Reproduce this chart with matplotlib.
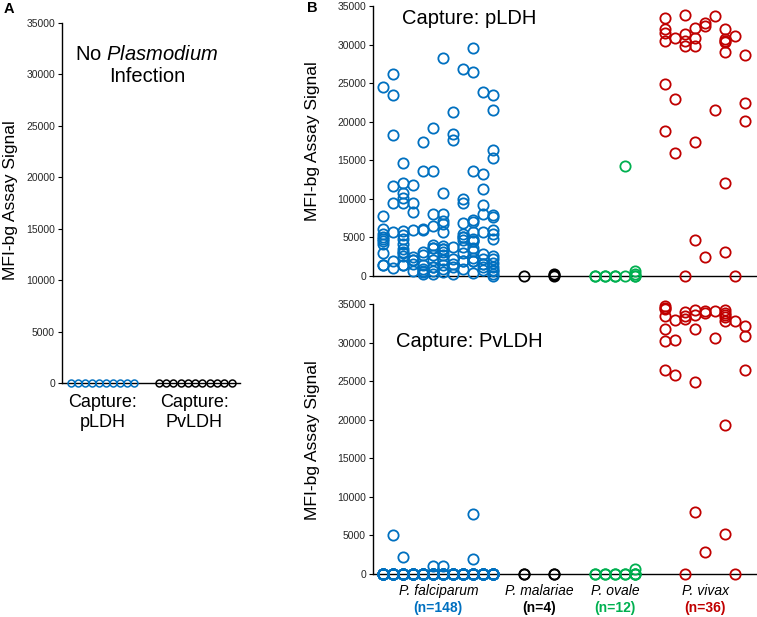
import matplotlib.pyplot as plt
from matplotlib.transforms import blended_transform_factory

plt.rcParams['font.family'] = ['Liberation Sans', 'DejaVu Sans']
plt.rcParams['mathtext.fontset'] = 'custom'
plt.rcParams['mathtext.rm'] = 'Liberation Sans'
plt.rcParams['mathtext.it'] = 'Liberation Sans:italic'

BLUE = '#0070C0'
RED = '#C00000'
GREEN = '#00B050'
BLACK = '#000000'
TICK_COLOR = '#262626'

# ---- data -------------------------------------------------------------
# panel A: samples without Plasmodium infection (all at 0)
neg_pldh = [0] * 10
neg_pvldh = [0] * 11

# panel B, capture pLDH - values grouped in jitter columns
pf_pldh = [
    [24500, 7800, 6100, 5400, 5000, 4800, 4600, 4200, 3000, 1400, 1400],
    [26200, 23400, 18300, 11700, 9400, 5700, 2000, 1000],
    [14600, 12100, 10700, 10100, 9500, 5800, 5300, 4800, 4200, 3500, 3100, 3000, 2600, 1400, 1400],
    [11800, 9500, 8300, 6000, 2500, 2100, 2100, 1600, 700],
    [17400, 13600, 6100, 5900, 3100, 2700, 1400, 900, 600, 500, 200],
    [19200, 13600, 8000, 6500, 4000, 3600, 3600, 2700, 2100, 1200, 1200, 700, 250],
    [28300, 10800, 8000, 7100, 6800, 5700, 3900, 3500, 3500, 3100, 2700, 2100, 2100, 1400, 900, 500],
    [21300, 18400, 17600, 3700, 2200, 1600, 1200, 300],
    [26800, 10000, 9400, 6900, 5500, 5100, 5100, 4700, 3700, 3000, 1900, 1900, 900],
    [29600, 26400, 13600, 7300, 7000, 5700, 4800, 4500, 4500, 3600, 3200, 2300, 2000, 2000, 400],
    [23800, 13200, 11300, 9200, 8100, 5700, 2800, 2200, 1600, 1600, 1200, 800],
    [23400, 21500, 16300, 15300, 7900, 7600, 6000, 5500, 4800, 2600, 2200, 1700, 1200, 800, 700, 300, 0],
]
pm_pldh = [[0], [0, 100, 200]]
po_pldh = [[0, 0], [0, 0], [0, 0], [14300, 0], [0, 0, 600, 300]]
pv_pldh = [
    [33400, 32000, 31500, 30400, 24900, 18800],
    [30800, 22900, 16000],
    [33800, 31400, 30400, 29800, 0],
    [32100, 30900, 29800, 17400, 4700],
    [32800, 32400, 2400],
    [33700, 21500],
    [32000, 30700, 30500, 30300, 29000, 12100, 3100],
    [31100, 0],
    [28700, 22400, 20100],
]

# panel B, capture PvLDH
pf_pvldh = [
    [0] * 12,
    [5050] + [0] * 11,
    [2150] + [0] * 11,
    [0] * 12,
    [0] * 12,
    [1000] + [0] * 11,
    [1000] + [0] * 11,
    [0] * 12,
    [0] * 12,
    [7750, 1900] + [0] * 10,
    [0] * 12,
    [0] * 11,
]
pm_pvldh = [[0, 0], [0, 0]]
po_pvldh = [[0, 0], [0, 0], [0, 0], [0, 0], [0, 0, 700, 0]]
pv_pvldh = [
    [34700, 34500, 34400, 33400, 31800, 30200, 26500],
    [32900, 30300, 25800],
    [33900, 33400, 33000, 0],
    [34200, 33600, 31800, 24900, 8000],
    [34100, 33800, 2800],
    [34100, 30600],
    [34200, 33800, 33600, 33350, 32800, 19300, 5200],
    [32800, 0],
    [32200, 30900, 26500],
]

species = ['P. falciparum', 'P. malariae', 'P. ovale', 'P. vivax']
counts = ['(n=148)', '(n=4)', '(n=12)', '(n=36)']
colors = [BLUE, BLACK, GREEN, RED]
yticks = list(range(0, 35001, 5000))

# column layout for each species group: (first column, column step)
layout = [(0, 1), (14.07, 3.03), (21.17, 1), (28.17, 1)]


def style_axis(ax, xlim):
    ax.set_xlim(*xlim)
    ax.set_ylim(0, 35000)
    ax.set_yticks(yticks)
    ax.set_xticks([])
    ax.spines['top'].set_visible(False)
    ax.spines['right'].set_visible(False)
    ax.spines['left'].set_linewidth(1.0)
    ax.spines['bottom'].set_linewidth(1.0)
    ax.tick_params(axis='y', labelsize=7.5, labelcolor=TICK_COLOR, length=3,
                   width=0.8, pad=2)
    ax.patch.set_alpha(0)


def draw_groups(ax, groups):
    for g, (cols, col) in enumerate(zip(groups, colors)):
        start, step = layout[g]
        for i, vals in enumerate(cols):
            xs = [start + i * step] * len(vals)
            ax.plot(xs, vals, 'o', ms=7.4, mfc='none', mec=col, mew=1.3,
                    clip_on=False, zorder=3, linestyle='none')


fig = plt.figure(figsize=(7.57, 6.17), dpi=100)

# ---- panel A ----------------------------------------------------------
axA = fig.add_axes([62 / 757, 1 - 383 / 617, 178 / 757, 360 / 617])
style_axis(axA, (-1.29, 24.1))
axA.plot(range(len(neg_pldh)), neg_pldh, 'o', ms=5.0, mfc='none', mec=BLUE,
         mew=1.1, clip_on=False, zorder=3)
axA.plot([12.5 + i * 1.04 for i in range(len(neg_pvldh))], neg_pvldh, 'o',
         ms=5.0, mfc='none', mec=BLACK, mew=1.1, clip_on=False, zorder=3)
tA = blended_transform_factory(axA.transData, axA.transAxes)
axA.text(10.8, 0.913, 'No $\\mathit{Plasmodium}$', ha='center', va='center',
         fontsize=14.5, transform=tA)
axA.text(10.8, 0.85, 'Infection', ha='center', va='center', fontsize=14.5,
         transform=tA)
for xc, name in [(4.5, 'pLDH'), (17.6, 'PvLDH')]:
    axA.text(xc, -0.053, 'Capture:', ha='center', va='center', fontsize=13,
             transform=tA)
    axA.text(xc, -0.111, name, ha='center', va='center', fontsize=13,
             transform=tA)

# ---- panel B top ------------------------------------------------------
axB1 = fig.add_axes([373 / 757, 1 - 276 / 617, 384 / 757, 270 / 617])
style_axis(axB1, (-1.03, 37.37))
draw_groups(axB1, [pf_pldh, pm_pldh, po_pldh, pv_pldh])
axB1.text(0.075, 0.955, 'Capture: pLDH', transform=axB1.transAxes,
          ha='left', va='center', fontsize=14.5)

# ---- panel B bottom ---------------------------------------------------
axB2 = fig.add_axes([373 / 757, 1 - 574 / 617, 384 / 757, 270 / 617])
style_axis(axB2, (-1.03, 37.37))
draw_groups(axB2, [pf_pvldh, pm_pvldh, po_pvldh, pv_pvldh])
axB2.text(0.06, 0.86, 'Capture: PvLDH', transform=axB2.transAxes,
          ha='left', va='center', fontsize=14.5)
tB = blended_transform_factory(axB2.transData, axB2.transAxes)
centers = [5.5, 15.6, 23.2, 32.2]
for xc, sp, n, col in zip(centers, species, counts, colors):
    axB2.text(xc, -0.063, sp, ha='center', va='center', fontsize=10,
              style='italic', transform=tB)
    axB2.text(xc, -0.126, n, ha='center', va='center', fontsize=10,
              fontweight='bold', color=col, transform=tB)

# ---- labels -----------------------------------------------------------
ylab = 'MFI-bg Assay Signal'
fig.text(11 / 757, 1 - 200 / 617, ylab, rotation=90, ha='center', va='center',
         fontsize=12.6)
fig.text(313 / 757, 1 - 141 / 617, ylab, rotation=90, ha='center', va='center',
         fontsize=12.6)
fig.text(313 / 757, 1 - 440 / 617, ylab, rotation=90, ha='center', va='center',
         fontsize=12.6)
fig.text(9 / 757, 1 - 9 / 617, 'A', ha='center', va='center', fontsize=10.5,
         fontweight='bold')
fig.text(312 / 757, 1 - 8 / 617, 'B', ha='center', va='center', fontsize=10.5,
         fontweight='bold')

fig.savefig('out.png', dpi=100)
